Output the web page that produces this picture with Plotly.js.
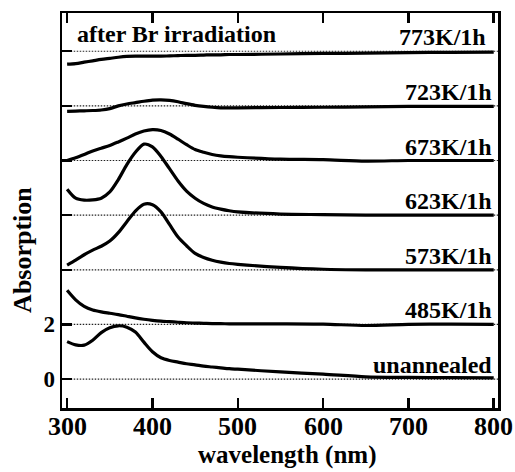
<!DOCTYPE html>
<html>
<head>
<meta charset="utf-8">
<script src="https://cdn.plot.ly/plotly-3.0.1.min.js"></script>
<style>html,body{margin:0;padding:0;background:#fff;}#chart{width:515px;height:472px;}</style>
</head>
<body>
<div id="chart"></div>
<script>
// wavelength (nm)
const wavelength = [300,310,320,330,340,350,360,370,380,390,400,410,420,430,440,450,460,470,480,490,500,550,600,650,700,750,800];

// absorption relative to each sample's own baseline
const unannealed = [1.37,1.25,1.24,1.42,1.70,1.88,1.95,1.90,1.72,1.35,1.00,0.78,0.68,0.62,0.56,0.52,0.47,0.44,0.41,0.38,0.36,0.26,0.18,0.08,0.06,0.05,0.04];
const k485 = [1.25,0.90,0.66,0.53,0.46,0.41,0.36,0.30,0.24,0.19,0.15,0.12,0.10,0.08,0.06,0.05,0.04,0.03,0.03,0.02,0.02,0.02,0.01,-0.04,0.00,0.01,0.00];
const k573 = [0.17,0.35,0.55,0.72,0.86,1.05,1.36,1.76,2.15,2.40,2.38,2.12,1.66,1.20,0.88,0.60,0.45,0.35,0.28,0.23,0.20,0.09,0.02,0.00,0.00,0.00,0.00];
const k623 = [0.95,0.62,0.55,0.56,0.62,0.85,1.30,1.85,2.30,2.60,2.50,2.15,1.70,1.25,0.88,0.62,0.43,0.30,0.22,0.16,0.12,0.04,0.02,0.00,0.00,0.00,0.00];
const k673 = [0.00,0.10,0.22,0.35,0.45,0.55,0.68,0.82,0.97,1.08,1.13,1.10,0.97,0.78,0.58,0.40,0.30,0.22,0.17,0.14,0.12,0.05,0.03,-0.02,0.00,0.00,0.00];
const k723 = [-0.20,-0.19,-0.18,-0.17,-0.15,-0.10,0.00,0.07,0.12,0.17,0.21,0.22,0.20,0.15,0.08,0.02,-0.02,-0.05,-0.07,-0.07,-0.07,-0.06,-0.05,-0.04,-0.02,-0.02,-0.02];
const k773 = [-0.47,-0.45,-0.40,-0.35,-0.30,-0.26,-0.22,-0.19,-0.18,-0.18,-0.18,-0.18,-0.17,-0.16,-0.15,-0.15,-0.14,-0.13,-0.13,-0.12,-0.12,-0.10,-0.08,-0.07,-0.05,-0.04,-0.03];

const seriesNames = ['unannealed','485K/1h','573K/1h','623K/1h','673K/1h','723K/1h','773K/1h'];
const seriesValues = [unannealed,k485,k573,k623,k673,k723,k773];
const offsets = [0,2,4,6,8,10,12];

const yTickVals = [0,2,4,6,8,10,12];
const yTickText = ['0','2','','','','',''];
const xTickVals = [300,400,500,600,700,800];
const xTickText = ['300','400','500','600','700','800'];

const FONT = 'Liberation Serif, Times New Roman, serif';

const traces = seriesValues.map((vals, i) => ({
  x: wavelength,
  y: vals.map(v => v + offsets[i]),
  type: 'scatter',
  mode: 'lines',
  name: seriesNames[i],
  line: {color: 'black', width: 3.2, shape: 'spline', smoothing: 0.8},
  hoverinfo: 'skip',
  showlegend: false
}));

const shapes = offsets.map(o => ({
  type: 'line', xref: 'paper', x0: 0.02, x1: 1, yref: 'y', y0: o, y1: o,
  line: {color: '#222', width: 1.2, dash: '1.5px,1.5px'}, layer: 'below'
}));

const labelFont = {family: FONT, size: 24, weight: 'bold', color: 'black'};
const annotations = seriesNames.map((n, i) => ({
  text: n, xref: 'paper', x: i === 6 ? 0.978 : 0.99, xanchor: 'right',
  yref: 'y', y: offsets[i], yanchor: 'middle', yshift: 14,
  showarrow: false, font: labelFont
}));
annotations.push({
  text: 'after Br irradiation', xref: 'paper', x: 0.03, xanchor: 'left',
  yref: 'paper', y: 0.947, yanchor: 'middle', showarrow: false, font: labelFont
});
xTickVals.forEach((v, i) => annotations.push({
  text: xTickText[i], xref: 'x', x: v, xanchor: 'center',
  yref: 'paper', y: 0, yanchor: 'top', yshift: -4, height: 24, valign: 'middle', showarrow: false,
  font: {family: FONT, size: 26, weight: 'bold', color: 'black'}
}));
annotations.push({
  text: 'wavelength (nm)', xref: 'paper', x: 0.515, xanchor: 'center',
  yref: 'paper', y: -0.119, yanchor: 'middle', showarrow: false,
  font: {family: FONT, size: 25, weight: 'bold', color: 'black'}
});
annotations.push({
  text: 'Absorption', xref: 'paper', x: -0.092, xanchor: 'center',
  yref: 'paper', y: 0.4, yanchor: 'middle', textangle: -90, showarrow: false,
  font: {family: FONT, size: 26, weight: 'bold', color: 'black'}
});

const layout = {
  width: 515, height: 472,
  margin: {l: 62, r: 17, t: 13, b: 64},
  paper_bgcolor: 'white', plot_bgcolor: 'white',
  font: {family: FONT, color: 'black', weight: 'bold'},
  xaxis: {
    range: [294, 805], tickvals: xTickVals, ticks: 'inside', ticklen: 10, tickwidth: 2.5,
    tickcolor: 'black', showline: true, linewidth: 2.5, linecolor: 'black', mirror: 'ticks',
    showgrid: false, zeroline: false, showticklabels: false
  },
  yaxis: {
    range: [-1.06, 13.4], tickvals: yTickVals, ticktext: yTickText, ticks: 'inside', ticklen: 10, tickwidth: 2.5,
    tickcolor: 'black', showline: true, linewidth: 2.5, linecolor: 'black', mirror: true,
    showgrid: false, zeroline: false,
    tickfont: {family: FONT, size: 23, weight: 'bold', color: 'black'}
  },
  shapes: shapes,
  annotations: annotations
};

Plotly.newPlot('chart', traces, layout, {displayModeBar: false, staticPlot: true});
</script>
</body>
</html>
